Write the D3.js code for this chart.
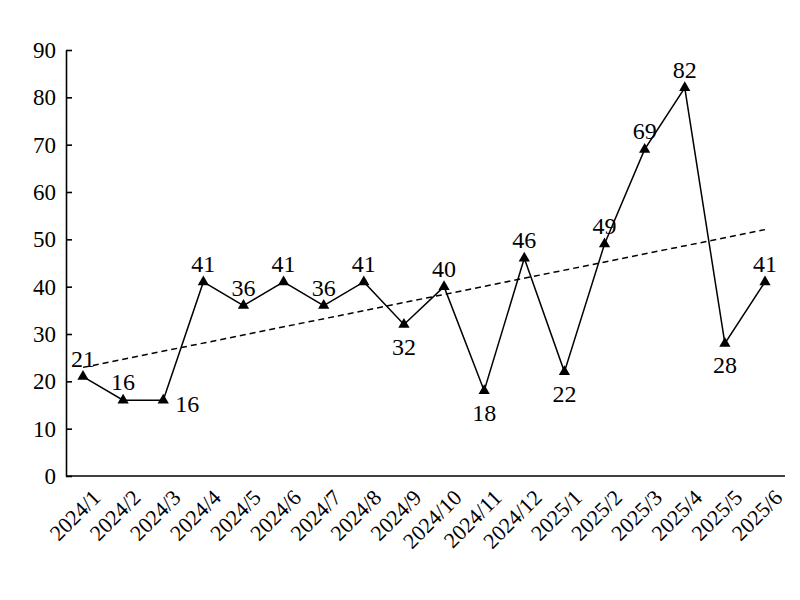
<!DOCTYPE html>
<html lang="en">
<head>
<meta charset="UTF-8">
<title>Monthly values</title>
<style>
    body { margin: 0; background: #fff; }
    svg text { font-family: "Liberation Serif", "DejaVu Serif", serif; fill: #000; }
</style>
</head>
<body>
<svg id="chart" width="800" height="600" font-family="Liberation Serif"></svg>
<script src="https://d3js.org/d3.v7.min.js"></script>
<script>
    var months = ["2024/1", "2024/2", "2024/3", "2024/4", "2024/5", "2024/6", "2024/7", "2024/8", "2024/9",
        "2024/10", "2024/11", "2024/12", "2025/1", "2025/2", "2025/3", "2025/4", "2025/5", "2025/6"];
    var values = [21, 16, 16, 41, 36, 41, 36, 41, 32, 40, 18, 46, 22, 49, 69, 82, 28, 41];
    // where each value label sits: above, below, right
    var labelPos = ["a", "a", "r", "a", "a", "a", "a", "a", "b", "a", "b", "a", "b", "a", "a", "a", "b", "a"];
    var yTicks = [0, 10, 20, 30, 40, 50, 60, 70, 80, 90];

    var svg = d3.select("#chart");
    var plotLeft = 66, plotRight = 785, plotTop = 50, plotBottom = 476;

    var x = d3.scalePoint().domain(months).range([83, 765]);
    var y = d3.scaleLinear().domain([0, 90]).range([plotBottom, plotTop]);

    // linear trend (least squares)
    var n = values.length, mx = (n - 1) / 2, my = d3.mean(values);
    var sxy = d3.sum(values, (v, i) => (i - mx) * (v - my));
    var sxx = d3.sum(values, (v, i) => (i - mx) * (i - mx));
    var slope = sxy / sxx, icpt = my - slope * mx;

    // y axis, ticks pointing inward
    var yAxis = svg.append("g")
        .attr("transform", "translate(" + plotLeft + ",0)")
        .call(d3.axisRight(y).tickValues(yTicks).tickSize(6).tickSizeOuter(0).tickFormat(d3.format("d")));
    yAxis.select(".domain").attr("stroke-width", 1.6);
    yAxis.selectAll(".tick line").attr("stroke-width", 1.6);
    yAxis.selectAll(".tick text").attr("x", -10).attr("text-anchor", "end")
        .attr("font-family", "Liberation Serif").style("font-size", "23px");

    svg.append("line").attr("x1", plotLeft).attr("x2", plotRight).attr("y1", plotBottom).attr("y2", plotBottom)
        .attr("stroke", "#000").attr("stroke-width", 1.6);

    // x labels rotated
    svg.append("g").selectAll("text").data(months).enter().append("text")
        .attr("transform", d => "translate(" + (x(d) + 8) + "," + (plotBottom + 12) + ") rotate(-45)")
        .attr("text-anchor", "end")
        .attr("dy", "0.7em")
        .style("font-size", "22px")
        .text(d => d);

    // trend line
    svg.append("line")
        .attr("x1", x(months[0])).attr("y1", y(icpt))
        .attr("x2", x(months[n - 1])).attr("y2", y(icpt + slope * (n - 1)))
        .attr("stroke", "#000").attr("stroke-width", 1.5).attr("stroke-dasharray", "6,4");

    var line = d3.line().x((d, i) => x(months[i])).y(d => y(d));
    svg.append("path").datum(values).attr("d", line)
        .attr("fill", "none").attr("stroke", "#000").attr("stroke-width", 1.5);

    svg.append("g").selectAll("path").data(values).enter().append("path")
        .attr("d", d3.symbol().type(d3.symbolTriangle).size(55))
        .attr("transform", (d, i) => "translate(" + x(months[i]) + "," + y(d) + ")")
        .attr("fill", "#000");

    svg.append("g").selectAll("text").data(values).enter().append("text")
        .attr("x", (d, i) => x(months[i]) + (labelPos[i] === "r" ? 12 : 0))
        .attr("y", (d, i) => y(d) + (labelPos[i] === "a" ? -10 : labelPos[i] === "b" ? 30 : 12))
        .attr("text-anchor", (d, i) => labelPos[i] === "r" ? "start" : "middle")
        .style("font-size", "24px")
        .text(d => d);
</script>
</body>
</html>
